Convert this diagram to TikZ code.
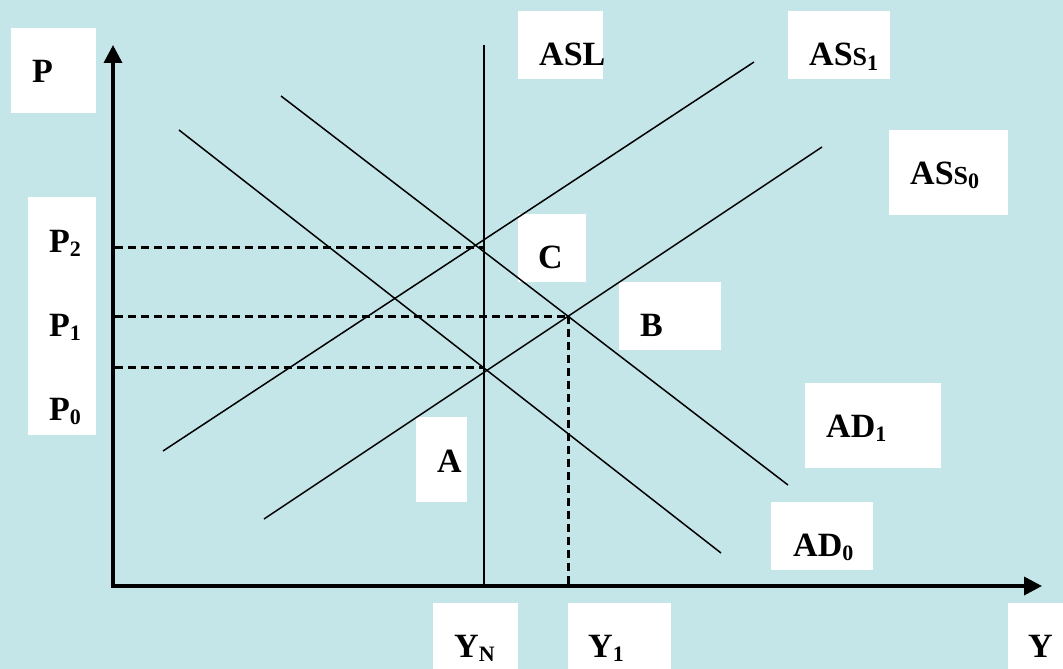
\documentclass[tikz,border=0pt]{standalone}
\usepackage{fontspec}
\setmainfont{Liberation Serif}
\usetikzlibrary{arrows.meta}
\definecolor{bgcyan}{RGB}{196,230,233}
\newcommand{\lowsub}[1]{\raisebox{-0.12em}{\fontsize{22}{22}\selectfont #1}}
\newcommand{\smallS}{{\fontsize{26}{26}\selectfont S}}

\begin{document}
\begin{tikzpicture}[x=1pt, y=-1pt,
  box/.style={fill=white},
  lbl/.style={anchor=base west, inner sep=0pt, font=\fontsize{34}{36}\selectfont\bfseries},
  curve/.style={line width=1.5pt},
  guide/.style={line width=3pt, dash pattern=on 8pt off 5pt},
  axis/.style={line width=3.5pt, line join=miter,
    {Triangle[length=18pt,width=18pt]}-{Triangle[length=18pt,width=18pt]}}]
  \useasboundingbox (0,0) rectangle (1063,669);
  \fill[bgcyan] (0,0) rectangle (1063,669);

  % white label boxes
  \fill[box] (11,28) rectangle (96,113);
  \fill[box] (28,197) rectangle (96,435);
  \fill[box] (518,11) rectangle (603,79);
  \fill[box] (788,11) rectangle (890,79);
  \fill[box] (889,130) rectangle (1008,215);
  \fill[box] (518,214) rectangle (586,282);
  \fill[box] (619,282) rectangle (721,350);
  \fill[box] (416,417) rectangle (467,502);
  \fill[box] (805,383) rectangle (941,468);
  \fill[box] (771,502) rectangle (873,570);
  \fill[box] (433,603) rectangle (518,669);
  \fill[box] (568,603) rectangle (671,669);
  \fill[box] (1008,603) rectangle (1063,669);

  \coordinate (C) at (484,247);
  \coordinate (B) at (568,316);
  \coordinate (A) at (484,367);

  \draw[guide] (115,247) -- (C);
  \draw[guide] (115,316) -- (B);
  \draw[guide] (115,367) -- (A);
  \draw[guide] (B) -- (568,586);

  \draw[curve] (484,45) -- (484,586);
  \draw[curve] (163,451) -- (754,62);
  \draw[curve] (264,519) -- (822,147);
  \draw[curve] (179,130) -- (721,553);
  \draw[curve] (281,96) -- (788,485);

  \draw[axis] (113,45) -- (113,586) -- (1042,586);

  \node[lbl] (labP) at (32,83) {P};
  \node[lbl] (labP2) at (49,252) {P\lowsub{2}};
  \node[lbl] (labP1) at (49,336) {P\lowsub{1}};
  \node[lbl] (labP0) at (49,420) {P\lowsub{0}};
  \node[lbl] (labASL) at (539,66) {ASL};
  \node[lbl] (labAS1) at (809,66) {AS\smallS\lowsub{1}};
  \node[lbl] (labAS0) at (910,184) {AS\smallS\lowsub{0}};
  \node[lbl] (labC) at (538,268) {C};
  \node[lbl] (labB) at (640,336) {B};
  \node[lbl] (labA) at (437,472) {A};
  \node[lbl] (labAD1) at (826,437) {AD\lowsub{1}};
  \node[lbl] (labAD0) at (793,556) {AD\lowsub{0}};
  \node[lbl] (labYN) at (454,657) {Y\lowsub{N}};
  \node[lbl] (labY1) at (588,657) {Y\lowsub{1}};
  \node[lbl] (labY) at (1028,657) {Y};
\end{tikzpicture}
\end{document}
